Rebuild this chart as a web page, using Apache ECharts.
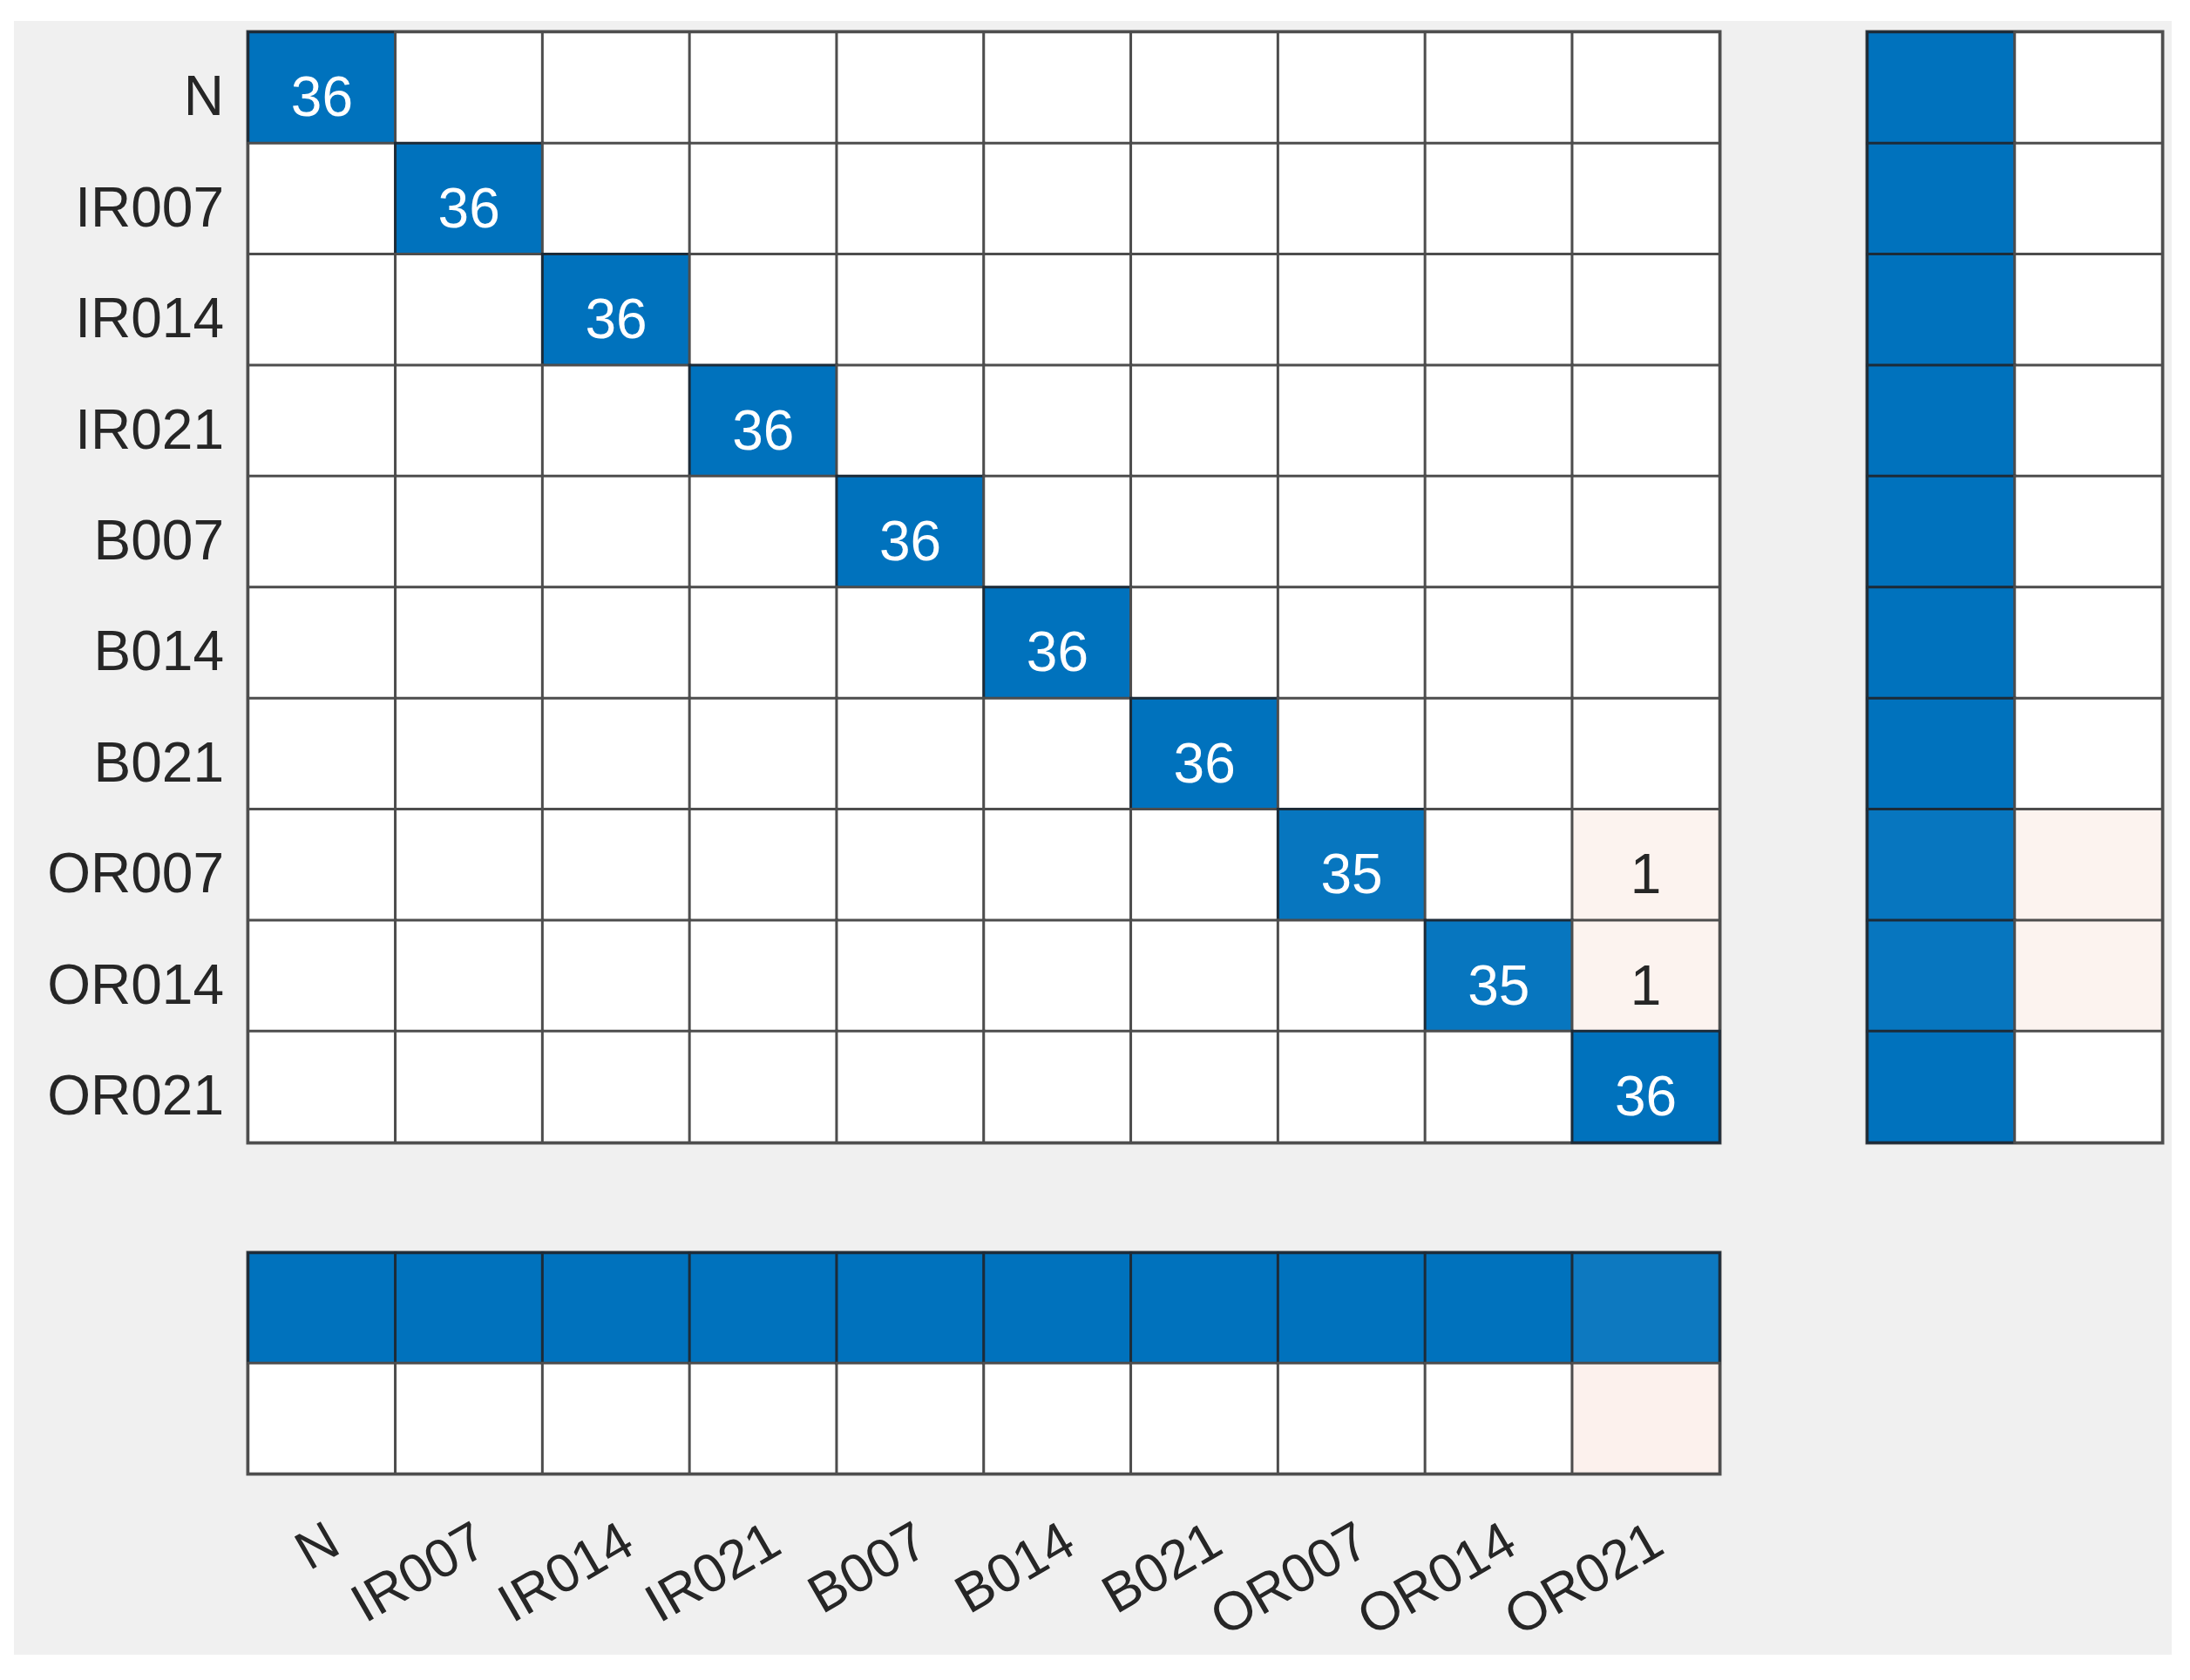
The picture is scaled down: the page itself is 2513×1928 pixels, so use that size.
<!DOCTYPE html>
<html>
<head>
<meta charset="utf-8">
<script src="https://cdn.jsdelivr.net/npm/echarts@6/dist/echarts.min.js"></script>
<style>
  html, body { margin: 0; padding: 0; background: #ffffff; width: 2513px; height: 1928px; overflow: hidden; }
  #chart { position: absolute; left: 16px; top: 24px; width: 2476px; height: 1875px; background: #f0f0f0; }
</style>
</head>
<body>
<div id="chart"></div>
<script>
// ---- data ----
const classes = ['N', 'IR007', 'IR014', 'IR021', 'B007', 'B014', 'B021', 'OR007', 'OR014', 'OR021'];
// rows = true class, columns = predicted class
const rowN     = [36, 0, 0, 0, 0, 0, 0, 0, 0, 0];
const rowIR007 = [0, 36, 0, 0, 0, 0, 0, 0, 0, 0];
const rowIR014 = [0, 0, 36, 0, 0, 0, 0, 0, 0, 0];
const rowIR021 = [0, 0, 0, 36, 0, 0, 0, 0, 0, 0];
const rowB007  = [0, 0, 0, 0, 36, 0, 0, 0, 0, 0];
const rowB014  = [0, 0, 0, 0, 0, 36, 0, 0, 0, 0];
const rowB021  = [0, 0, 0, 0, 0, 0, 36, 0, 0, 0];
const rowOR007 = [0, 0, 0, 0, 0, 0, 0, 35, 0, 1];
const rowOR014 = [0, 0, 0, 0, 0, 0, 0, 0, 35, 1];
const rowOR021 = [0, 0, 0, 0, 0, 0, 0, 0, 0, 36];
const confusion = [rowN, rowIR007, rowIR014, rowIR021, rowB007, rowB014, rowB021, rowOR007, rowOR014, rowOR021];
const summaryCols = ['correct', 'incorrect'];

// ---- styling helpers ----
const BLUE = [0, 114, 189];
const ORANGE = [217, 83, 25];
function mix(c, a) {
  const r = Math.round(255 + (c[0] - 255) * a);
  const g = Math.round(255 + (c[1] - 255) * a);
  const b = Math.round(255 + (c[2] - 255) * a);
  return 'rgb(' + r + ',' + g + ',' + b + ')';
}
function cellColor(isGood, frac) {
  if (frac <= 0) return '#ffffff';
  if (isGood) return mix(BLUE, frac);
  return mix(ORANGE, 0.055 + frac * 0.45);
}
const FONT = '"Liberation Sans", Arial, Helvetica, sans-serif';
const maxVal = Math.max(...confusion.map(r => Math.max(...r)));

// ---- main matrix ----
const mainData = [];
confusion.forEach((row, i) => {
  row.forEach((v, j) => {
    const good = i === j;
    const frac = v / maxVal;
    const strong = good && frac > 0.5;
    mainData.push({
      value: [j, i, v],
      itemStyle: { color: cellColor(good, frac), borderColor: strong ? '#1c2b38' : '#4d4d4d' },
      label: { show: v > 0, color: strong ? '#ffffff' : '#262626' }
    });
  });
});

// ---- row summary (per true class) ----
const rightData = [];
confusion.forEach((row, i) => {
  const tot = row.reduce((a, b) => a + b, 0);
  const ok = row[i] / tot, bad = 1 - ok;
  rightData.push({ value: [0, i, ok], itemStyle: { color: cellColor(true, ok), borderColor: '#1c2b38' } });
  rightData.push({ value: [1, i, bad], itemStyle: { color: cellColor(false, bad), borderColor: '#4d4d4d' } });
});

// ---- column summary (per predicted class) ----
const bottomData = [];
classes.forEach((c, j) => {
  const tot = confusion.reduce((a, r) => a + r[j], 0);
  const ok = confusion[j][j] / tot, bad = 1 - ok;
  bottomData.push({ value: [j, 0, ok], itemStyle: { color: cellColor(true, ok), borderColor: '#1c2b38' } });
  bottomData.push({ value: [j, 1, bad], itemStyle: { color: cellColor(false, bad), borderColor: '#4d4d4d' } });
});

const gridStyle = { show: true, borderColor: '#555555', borderWidth: 5, backgroundColor: '#ffffff' };
const hiddenAxis = { axisLine: { show: false }, axisTick: { show: false }, axisLabel: { show: false }, splitLine: { show: false } };

const chart = echarts.init(document.getElementById('chart'), null, { renderer: 'canvas' });
chart.setOption({
  animation: false,
  backgroundColor: '#f0f0f0',
  grid: [
    Object.assign({ left: 269, top: 13, width: 1688, height: 1274 }, gridStyle),
    Object.assign({ left: 2127, top: 13, width: 338, height: 1274 }, gridStyle),
    Object.assign({ left: 269, top: 1414, width: 1688, height: 253 }, gridStyle)
  ],
  xAxis: [
    Object.assign({ type: 'category', gridIndex: 0, data: classes }, hiddenAxis),
    Object.assign({ type: 'category', gridIndex: 1, data: summaryCols }, hiddenAxis),
    {
      type: 'category', gridIndex: 2, data: classes,
      axisLine: { show: false }, axisTick: { show: false }, splitLine: { show: false },
      axisLabel: { show: true, interval: 0, rotate: 30, margin: 48, fontSize: 62, fontFamily: FONT, color: '#262626', verticalAlign: 'top', align: 'right' }
    }
  ],
  yAxis: [
    {
      type: 'category', gridIndex: 0, data: classes, inverse: true,
      axisLine: { show: false }, axisTick: { show: false }, splitLine: { show: false },
      axisLabel: { show: true, interval: 0, margin: 28, fontSize: 64, fontFamily: FONT, color: '#262626', verticalAlign: 'top', lineHeight: 28 }
    },
    Object.assign({ type: 'category', gridIndex: 1, data: classes, inverse: true }, hiddenAxis),
    Object.assign({ type: 'category', gridIndex: 2, data: summaryCols, inverse: true }, hiddenAxis)
  ],
  series: [
    {
      type: 'heatmap', xAxisIndex: 0, yAxisIndex: 0, data: mainData,
      itemStyle: { borderWidth: 3 },
      label: { show: true, fontSize: 64, fontFamily: FONT, offset: [0, 15], formatter: p => String(p.value[2]) },
      emphasis: { disabled: true }
    },
    {
      type: 'heatmap', xAxisIndex: 1, yAxisIndex: 1, data: rightData,
      itemStyle: { borderWidth: 3 }, label: { show: false }, emphasis: { disabled: true }
    },
    {
      type: 'heatmap', xAxisIndex: 2, yAxisIndex: 2, data: bottomData,
      itemStyle: { borderWidth: 3 }, label: { show: false }, emphasis: { disabled: true }
    }
  ]
});
</script>
</body>
</html>
